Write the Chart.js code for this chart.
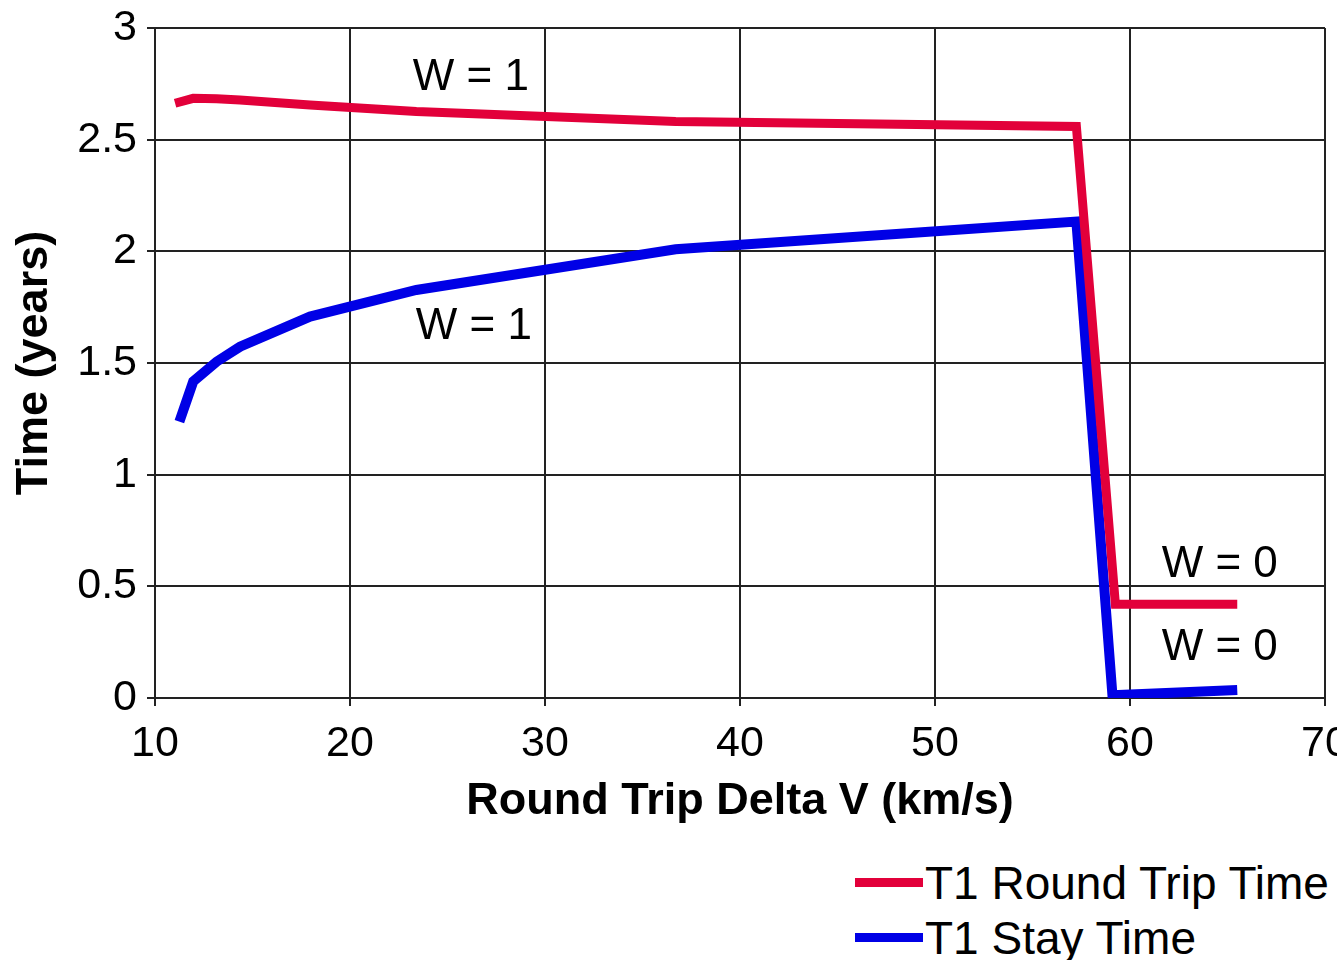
<!DOCTYPE html>
<html>
<head>
<meta charset="utf-8">
<script src="https://cdn.jsdelivr.net/npm/chart.js@4.4.1/dist/chart.umd.min.js"></script>
<style>
  html, body { margin: 0; padding: 0; background: #fff; overflow: hidden; width: 1337px; height: 960px; }
  #wrap { position: absolute; left: 0; top: 0; width: 1353px; height: 840px; }
  #legend { position: absolute; left: 855px; top: 855px; font-family: "Liberation Sans", Arial, sans-serif; font-size: 46px; color: #000; }
  .row { display: flex; align-items: center; height: 55px; white-space: nowrap; }
  .swatch { display: inline-block; width: 68px; height: 9px; margin-right: 2px; }
</style>
</head>
<body>
<div id="wrap"><canvas id="chart"></canvas></div>
<div id="legend"></div>
<script>
// Round trip delta V (km/s) for each series
const roundTripDeltaV = [11.03, 11.96, 13.16, 14.36, 17.95, 23.4, 36.7, 57.25, 59.25, 65.5];
const stayDeltaV      = [11.25, 11.96, 13.16, 14.36, 17.95, 23.4, 36.7, 57.25, 59.1, 65.5];

// Time (years)
const roundTripTime = [2.663, 2.685, 2.683, 2.678, 2.655, 2.626, 2.581, 2.559, 0.42, 0.42];
const stayTime      = [1.237, 1.417, 1.506, 1.573, 1.708, 1.827, 2.009, 2.133, 0.012, 0.036];

const seriesNames = ['T1 Round Trip Time', 'T1 Stay Time'];
const xTicks = [10, 20, 30, 40, 50, 60, 70];
const yTicks = [0, 0.5, 1, 1.5, 2, 2.5, 3];

// text labels on the plot
const noteText = ['W = 1', 'W = 1', 'W = 0', 'W = 0'];
const noteX = [26.2, 26.35, 64.6, 64.6];
const noteY = [2.776, 1.661, 0.596, 0.224];

const red = '#e2003a';
const blue = '#0000e6';
const font = '"Liberation Sans", Arial, Helvetica, sans-serif';

function toPoints(xs, ys) {
  return xs.map((x, i) => ({ x: x, y: ys[i] }));
}

const notesPlugin = {
  id: 'notes',
  afterDatasetsDraw(chart) {
    const ctx = chart.ctx;
    const xs = chart.scales.x, ys = chart.scales.y;
    ctx.save();
    ctx.font = '44px ' + font;
    ctx.fillStyle = '#000';
    ctx.textAlign = 'center';
    ctx.textBaseline = 'middle';
    noteText.forEach((t, i) => {
      ctx.fillText(t, xs.getPixelForValue(noteX[i]), ys.getPixelForValue(noteY[i]));
    });
    ctx.restore();
  }
};

const chart = new Chart(document.getElementById('chart'), {
  type: 'line',
  data: {
    datasets: [{
      label: seriesNames[0],
      data: toPoints(roundTripDeltaV, roundTripTime),
      borderColor: red,
      backgroundColor: red,
      borderWidth: 9,
      pointRadius: 0,
      tension: 0,
      borderJoinStyle: 'miter'
    }, {
      label: seriesNames[1],
      data: toPoints(stayDeltaV, stayTime),
      borderColor: blue,
      backgroundColor: blue,
      borderWidth: 10,
      pointRadius: 0,
      tension: 0,
      borderJoinStyle: 'miter'
    }]
  },
  options: {
    responsive: true,
    maintainAspectRatio: false,
    animation: false,
    layout: { padding: 0 },
    plugins: {
      legend: { display: false },
      tooltip: { enabled: false }
    },
    scales: {
      x: {
        type: 'linear',
        min: 10,
        max: 70,
        afterBuildTicks: (s) => { s.ticks = xTicks.map(v => ({ value: v })); },
        afterFit: (s) => { s.height = 142; s.paddingRight = 28; },
        grid: { color: '#222', lineWidth: 2, tickLength: 8, tickColor: '#222' },
        border: { color: '#222', width: 2 },
        ticks: { color: '#000', font: { family: font, size: 43 }, padding: 12, maxRotation: 0 },
        title: {
          display: true,
          text: 'Round Trip Delta V (km/s)',
          color: '#000',
          font: { family: font, size: 45, weight: 'bold' },
          padding: { top: 0, bottom: 11 }
        }
      },
      y: {
        type: 'linear',
        min: 0,
        max: 3,
        afterBuildTicks: (s) => { s.ticks = yTicks.map(v => ({ value: v })); },
        afterFit: (s) => { s.width = 155; s.paddingTop = 28; },
        grid: { color: '#222', lineWidth: 2, tickLength: 8, tickColor: '#222' },
        border: { color: '#222', width: 2 },
        ticks: {
          color: '#000',
          font: { family: font, size: 43 },
          padding: 10,
          callback: (v) => String(v)
        },
        title: {
          display: true,
          text: 'Time (years)',
          color: '#000',
          font: { family: font, size: 45, weight: 'bold' },
          padding: { top: 8, bottom: 0 }
        }
      }
    }
  },
  plugins: [notesPlugin]
});

// legend built from the datasets
const legend = document.getElementById('legend');
chart.data.datasets.forEach(ds => {
  const row = document.createElement('div');
  row.className = 'row';
  const sw = document.createElement('span');
  sw.className = 'swatch';
  sw.style.background = ds.borderColor;
  const txt = document.createElement('span');
  txt.textContent = ds.label;
  row.appendChild(sw);
  row.appendChild(txt);
  legend.appendChild(row);
});
</script>
</body>
</html>
